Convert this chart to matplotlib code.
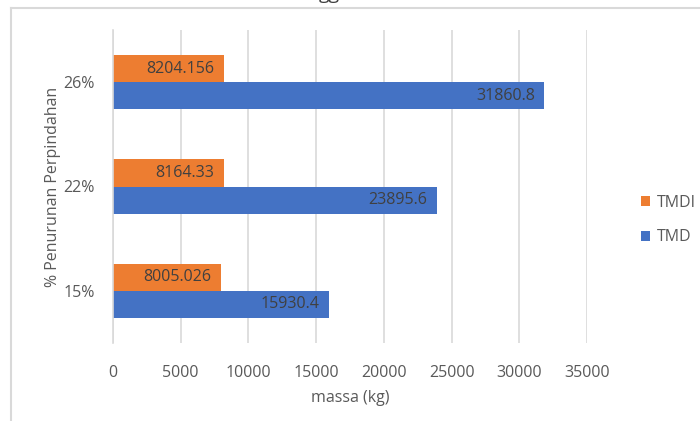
import matplotlib
matplotlib.use("Agg")
import matplotlib.pyplot as plt
from matplotlib.lines import Line2D
import numpy as np

categories = ["15%", "22%", "26%"]
tmdi = [8005.026, 8164.33, 8204.156]
tmd = [15930.4, 23895.6, 31860.8]
tmdi_labels = ["8005.026", "8164.33", "8204.156"]
tmd_labels = ["15930.4", "23895.6", "31860.8"]
xticks = [0, 5000, 10000, 15000, 20000, 25000, 30000, 35000]

plt.rcParams['font.family'] = ['Open Sans', 'DejaVu Sans']

W, H = 700, 421
fig = plt.figure(figsize=(W / 100, H / 100), dpi=100)
ax = fig.add_axes([113 / W, 1 - 343 / H, (587 - 113) / W, (343 - 30) / H])

orange = "#ED7D31"
blue = "#4472C4"
y = np.arange(len(categories))
h = 0.26
b1 = ax.barh(y + h / 2, tmdi, height=h, color=orange, label="TMDI", zorder=3)
b2 = ax.barh(y - h / 2, tmd, height=h, color=blue, label="TMD", zorder=3)

for bars, labs in ((b1, tmdi_labels), (b2, tmd_labels)):
    for rect, lab in zip(bars, labs):
        ax.annotate(lab, (rect.get_x() + rect.get_width(), rect.get_y() + rect.get_height() / 2),
                    xytext=(-7, 0), textcoords="offset points", ha="right", va="center",
                    fontsize=11.5, color="#404040", zorder=4)

ax.set_xlim(0, 35000)
ax.set_ylim(-0.5, 2.5)
ax.set_xticks(xticks)
ax.set_xticklabels([str(v) for v in xticks])
ax.set_yticks(y)
ax.set_yticklabels(categories)
ax.tick_params(axis="both", length=0, labelsize=11.5, labelcolor="#595959")
ax.tick_params(axis="x", pad=16)
ax.tick_params(axis="y", pad=13)
ax.grid(axis="x", color="#D9D9D9", linewidth=1.2, zorder=0)
for s in ("top", "right", "bottom"):
    ax.spines[s].set_visible(False)
ax.spines["left"].set_color("#D9D9D9")
ax.spines["left"].set_linewidth(1.2)
ax.spines["left"].set_zorder(5)

ax.set_xlabel("massa (kg)", fontsize=11.5, color="#595959", labelpad=6)
ax.set_ylabel("% Penurunan Perpindahan", fontsize=11.5, color="#595959", labelpad=2)

handles = [b1, b2]
leg = fig.legend(handles, ["TMDI", "TMD"], loc="center left", bbox_to_anchor=(641 / W, 1 - 220 / H),
                 frameon=False, fontsize=11.5, handlelength=0.58, handleheight=0.58,
                 handletextpad=0.4, labelspacing=1.15, labelcolor="#595959",
                 borderpad=0, borderaxespad=0)

# chart frame (cropped)
fig.add_artist(Line2D([11 / W, 11 / W], [0, 1 - 8 / H], transform=fig.transFigure, color="#D9D9D9", lw=1.5))
fig.add_artist(Line2D([11 / W, 1], [1 - 8 / H, 1 - 8 / H], transform=fig.transFigure, color="#D9D9D9", lw=1.5))

# cropped title remnant (cut off at the top edge, as in the reference)
fig.text(329 / W, 1 + 1.5 / H, "gg", ha="center", va="baseline", fontsize=14, color="#404040")

fig.savefig("out.png", dpi=100)
